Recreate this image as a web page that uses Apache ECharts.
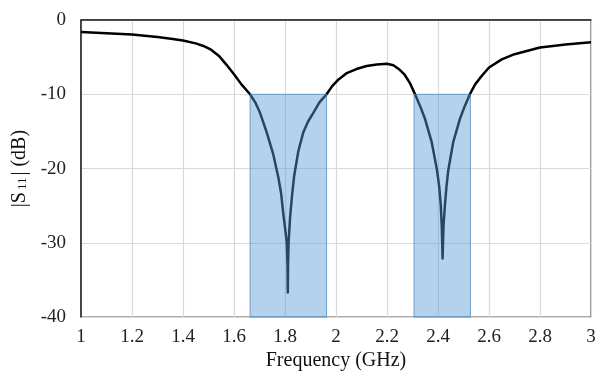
<!DOCTYPE html>
<html lang="en">
<head>
    <meta charset="UTF-8">
    <title>S11</title>
    <script src="https://cdn.jsdelivr.net/npm/echarts@6/dist/echarts.min.js"></script>
    <style>
        html, body { margin: 0; padding: 0; background: #fff; }
        #main { width: 605px; height: 376px; }
    </style>
</head>
<body>
    <div id="main"></div>
    <script type="text/javascript">
        // frequency (GHz) and |S11| (dB)
        var freq = [1.00, 1.10, 1.20, 1.30, 1.36, 1.40, 1.45, 1.48, 1.51, 1.54, 1.57, 1.60, 1.63, 1.663,
            1.685, 1.702, 1.728, 1.754, 1.774, 1.785, 1.793, 1.801, 1.807, 1.810, 1.811, 1.812,
            1.814, 1.820, 1.828, 1.836, 1.852, 1.872, 1.890, 1.911, 1.935, 1.963,
            1.985, 2.01, 2.04, 2.08, 2.12, 2.16, 2.20, 2.225, 2.25, 2.27, 2.29,
            2.31, 2.33, 2.349, 2.375, 2.396, 2.405, 2.411, 2.415, 2.418, 2.420, 2.422,
            2.427, 2.433, 2.44, 2.46, 2.486, 2.505, 2.525,
            2.545, 2.565, 2.60, 2.65, 2.70, 2.80, 2.90, 3.00];
        var s11 = [-1.6, -1.8, -1.95, -2.3, -2.55, -2.75, -3.15, -3.5, -4.0, -4.8, -6.0, -7.3, -8.7, -10.0,
            -11.2, -12.5, -15.1, -18.1, -21.2, -23.4, -26.0, -28.2, -30.0, -33.0, -36.7, -33.0,
            -30.0, -26.5, -23.5, -21.0, -17.7, -15.1, -13.7, -12.5, -11.1, -10.0,
            -8.9, -8.0, -7.2, -6.6, -6.2, -6.0, -5.9, -6.1, -6.7, -7.4, -8.5,
            -10.0, -11.6, -13.3, -16.4, -20.2, -22.5, -25.0, -28.0, -32.1, -29.5, -27.5,
            -25.0, -22.5, -20.3, -16.4, -13.3, -11.6, -10.0,
            -8.7, -7.8, -6.4, -5.3, -4.6, -3.7, -3.3, -3.0];
        // bandwidth regions below -10 dB
        var bandStart = [1.663, 2.306];
        var bandEnd = [1.963, 2.527];
        var bandTop = -10;
        var yTicks = [-40, -30, -20, -10, 0];

        var points = freq.map(function (f, i) { return [f, s11[i]]; });
        var areas = bandStart.map(function (b, i) {
            return [{ xAxis: b, yAxis: yTicks[0] }, { xAxis: bandEnd[i], yAxis: bandTop }];
        });

        var font = 'Liberation Serif';
        var myChart = echarts.init(document.getElementById('main'));
        var option = {
            animation: false,
            grid: {
                left: 81, right: 14, top: 20, bottom: 51,
                show: true, borderColor: '#333', borderWidth: 1
            },
            xAxis: {
                type: 'value', min: 1, max: 3, interval: 0.2,
                name: 'Frequency (GHz)', nameLocation: 'middle', nameGap: 29,
                nameTextStyle: { fontFamily: font, fontSize: 20, color: '#111' },
                axisLine: { lineStyle: { color: '#222', width: 1.5 } },
                axisTick: { show: false },
                axisLabel: { fontFamily: font, fontSize: 19, color: '#222', margin: 10 },
                splitLine: { lineStyle: { color: '#d9d9d9', width: 1.2 } }
            },
            yAxis: {
                type: 'value', min: yTicks[0], max: yTicks[yTicks.length - 1], interval: 10,
                name: '{a||S}{s|11}{a|| (dB)}', nameLocation: 'middle', nameGap: 50,
                nameTextStyle: {
                    rich: {
                        a: { fontFamily: font, fontSize: 20, color: '#111' },
                        s: { fontFamily: font, fontSize: 13, color: '#111', padding: [6, 2, 0, 2] }
                    }
                },
                axisLine: { lineStyle: { color: '#222', width: 1.5 } },
                axisTick: { show: false },
                axisLabel: { fontFamily: font, fontSize: 19, color: '#222', margin: 15 },
                splitLine: { lineStyle: { color: '#d9d9d9', width: 1.2 } }
            },
            series: [{
                type: 'line',
                data: points,
                showSymbol: false,
                smooth: false,
                lineStyle: { color: '#000', width: 2.5, join: 'round' },
                z: 2
            }, {
                type: 'line',
                data: [],
                z: 5,
                markArea: {
                    silent: true,
                    z: 10,
                    itemStyle: {
                        color: 'rgba(91,155,213,0.45)',
                        borderColor: 'rgba(70,130,190,0.7)',
                        borderWidth: 1
                    },
                    data: areas
                }
            }]
        };
        myChart.setOption(option);
    </script>
</body>
</html>
